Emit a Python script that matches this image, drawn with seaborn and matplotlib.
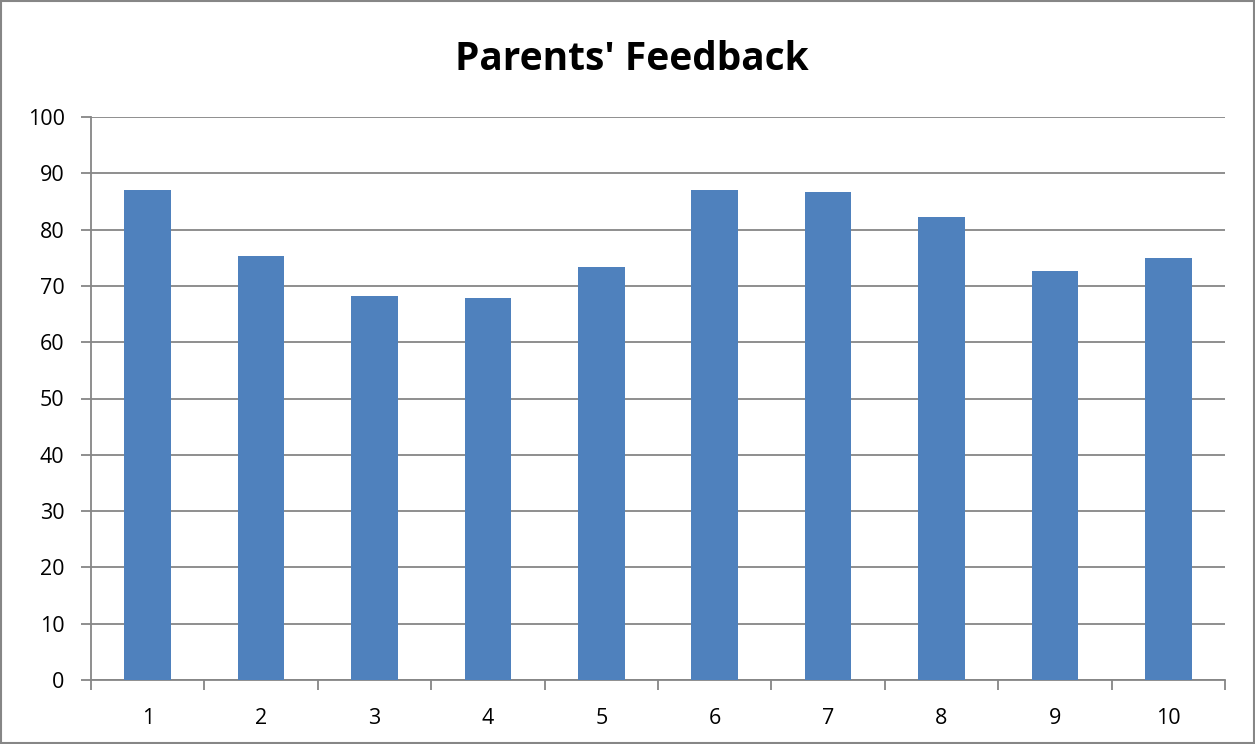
import matplotlib
matplotlib.use("Agg")
import matplotlib.pyplot as plt
import seaborn as sns
import pandas as pd
from matplotlib.patches import Rectangle

categories = ["1", "2", "3", "4", "5", "6", "7", "8", "9", "10"]
values = [87.0, 75.3, 68.2, 67.8, 73.3, 87.0, 86.7, 82.2, 72.6, 75.0]
title = "Parents' Feedback"
yticks = [0, 10, 20, 30, 40, 50, 60, 70, 80, 90, 100]

sns.set_theme(style="white")
plt.rcParams['font.family'] = ['Open Sans', 'DejaVu Sans']

df = pd.DataFrame({"cat": categories, "val": values})

fig = plt.figure(figsize=(12.55, 7.44), dpi=100)
ax = fig.add_axes([91/1255, 1-680/744, (1225-91)/1255, (680-117)/744])

sns.barplot(data=df, x="cat", y="val", color="#4F81BD", width=0.41,
            saturation=1, ax=ax, zorder=3, edgecolor="#4F81BD", linewidth=0)

grid_c = "#868686"
ax.set_ylim(0, 100)
ax.set_xlim(-0.5, len(categories) - 0.5)
ax.set_yticks(yticks)
ax.set_yticklabels([str(t) for t in yticks], fontsize=15.5, color="black")
ax.yaxis.grid(True, color=grid_c, linewidth=1.3, zorder=0)
ax.set_axisbelow(True)
ax.set_xlabel("")
ax.set_ylabel("")

ax.set_xticks(range(len(categories)))
ax.set_xticklabels(categories, fontsize=15.5, color="black")
ax.set_xticks([i - 0.5 for i in range(len(categories) + 1)], minor=True)
ax.tick_params(axis="x", which="major", length=0, pad=20)
ax.tick_params(axis="x", which="minor", length=7, width=1.3, color=grid_c, direction="out", bottom=True)
ax.tick_params(axis="y", which="major", length=7, width=1.3, color=grid_c, direction="out", left=True, pad=12)

for s in ["top", "right"]:
    ax.spines[s].set_visible(False)
for s in ["left", "bottom"]:
    ax.spines[s].set_visible(True)
    ax.spines[s].set_color(grid_c)
    ax.spines[s].set_linewidth(1.3)

fig.text(632/1255, 1-60/744, title, ha="center", va="center",
         fontsize=28, fontweight="bold", color="black")

fig.patches.append(Rectangle((0.001, 0.001), 0.998, 0.998, transform=fig.transFigure,
                             fill=False, edgecolor=grid_c, linewidth=1.5))

fig.savefig("out.png", dpi=100)
